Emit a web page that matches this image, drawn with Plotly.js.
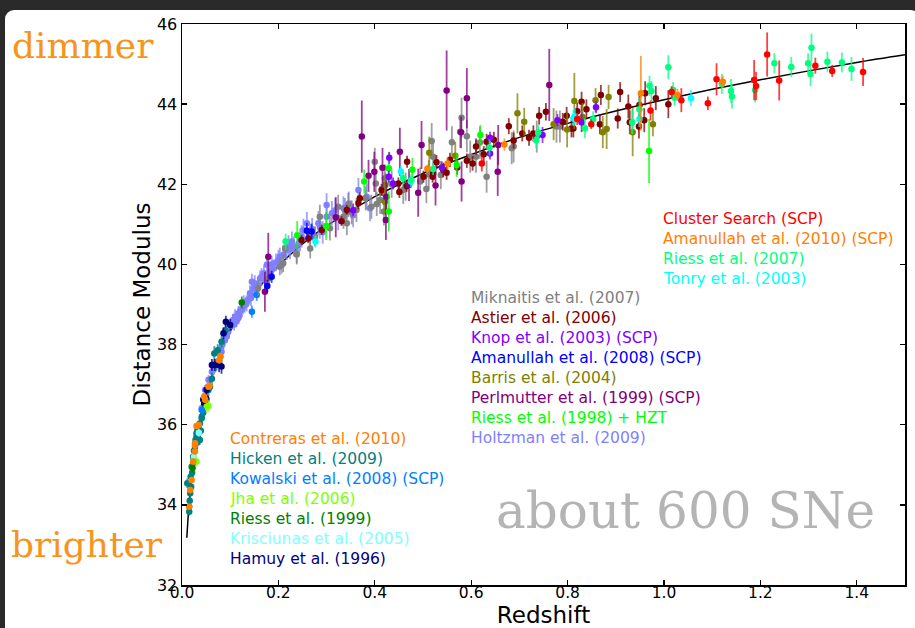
<!DOCTYPE html>
<html>
<head>
<meta charset="utf-8">
<script src="https://cdn.plot.ly/plotly-3.0.1.min.js"></script>
<style>
html,body{margin:0;padding:0;background:#2a2a2a;width:915px;height:628px;overflow:hidden;}
#card{position:absolute;left:5px;top:10px;width:915px;height:640px;background:#ffffff;border-radius:9px;}
#chart{position:absolute;left:0;top:0;width:915px;height:628px;}
</style>
</head>
<body>
<div id="card"></div>
<div id="chart"></div>
<script>
// ---- model curve ----
const zLine  = [0.01,0.015,0.02,0.03,0.04,0.05,0.07,0.10,0.13,0.16,0.20,0.25,0.30,0.40,0.50,0.60,0.70,0.80,0.90,1.00,1.10,1.20,1.30,1.40,1.50];
const muLine = [33.18,34.07,34.70,35.60,36.24,36.74,37.50,38.33,38.93,39.43,39.96,40.51,40.96,41.69,42.27,42.74,43.17,43.52,43.83,44.11,44.37,44.61,44.83,45.04,45.23];

// ---- data sets ----
const zHoltzman  = [0.041,0.048,0.055,0.062,0.065,0.068,0.082,0.082,0.089,0.093,0.096,0.103,0.106,0.110,0.113,0.117,0.117,0.121,0.124,0.127,0.130,0.134,0.137,0.141,0.145,0.148,0.151,0.155,0.162,0.165,0.170,0.176,0.183,0.189,0.195,0.200,0.207,0.210,0.217,0.221,0.228,0.232,0.238,0.245,0.248,0.252,0.259,0.266,0.283,0.286,0.300,0.300,0.311,0.324,0.335,0.338,0.355,0.366,0.383,0.390,0.108,0.119,0.128,0.143,0.158,0.172,0.186,0.203,0.224,0.242,0.270,0.292,0.318,0.346];
const muHoltzman = [36.41,36.87,37.12,37.32,37.37,37.53,37.82,37.95,38.11,38.20,38.32,38.53,38.61,38.70,38.58,38.66,38.78,38.85,38.88,38.94,38.98,39.03,39.12,39.28,39.57,39.40,39.53,39.36,39.65,39.69,39.78,39.99,39.85,39.90,40.05,40.11,39.99,40.24,40.36,40.48,40.57,40.45,40.28,40.61,40.70,40.86,41.03,40.73,41.03,40.94,41.19,41.48,41.28,41.15,41.40,41.36,41.23,41.86,41.69,41.40,38.50,38.72,39.05,39.16,39.48,39.62,40.00,40.20,40.38,40.52,40.88,40.80,41.35,41.52];
const erHoltzman = [0.12,0.12,0.12,0.12,0.15,0.12,0.15,0.12,0.15,0.15,0.15,0.15,0.15,0.18,0.15,0.15,0.18,0.15,0.18,0.18,0.18,0.2,0.18,0.2,0.2,0.2,0.2,0.2,0.2,0.22,0.2,0.22,0.22,0.22,0.22,0.25,0.22,0.25,0.25,0.25,0.25,0.25,0.25,0.28,0.28,0.28,0.28,0.28,0.3,0.3,0.3,0.3,0.3,0.3,0.3,0.3,0.3,0.3,0.32,0.32,0.15,0.15,0.18,0.2,0.2,0.2,0.22,0.22,0.25,0.25,0.28,0.28,0.3,0.3];

const zHicken  = [0.011,0.015,0.015,0.016,0.017,0.018,0.019,0.020,0.021,0.023,0.024,0.025,0.027,0.028,0.030,0.030,0.031,0.032,0.034,0.035,0.037,0.037,0.039,0.041,0.041,0.044,0.047,0.051,0.055,0.058,0.062,0.067,0.072,0.074,0.082,0.090];
const muHicken = [34.54,33.83,33.95,34.10,34.29,34.70,34.45,34.95,34.80,35.20,35.05,35.35,35.45,35.62,35.70,35.79,35.55,35.87,35.65,35.95,36.03,35.62,35.85,36.16,36.20,36.30,36.45,36.62,36.87,36.95,37.15,37.78,37.50,37.86,38.07,38.35];
const erHicken = [0.12,0.1,0.1,0.1,0.12,0.12,0.1,0.12,0.1,0.12,0.1,0.12,0.12,0.12,0.15,0.12,0.12,0.15,0.12,0.12,0.15,0.12,0.12,0.15,0.12,0.15,0.15,0.15,0.15,0.15,0.15,0.18,0.15,0.15,0.15,0.15];

const zHamuy  = [0.044,0.046,0.050,0.051,0.062,0.068,0.077,0.082,0.086,0.091,0.100];
const muHamuy = [36.63,36.53,36.66,36.87,37.49,37.49,37.49,37.45,38.28,38.57,38.49];
const erHamuy = [0.15,0.15,0.15,0.15,0.15,0.15,0.18,0.18,0.15,0.15,0.15];

const zKris  = [0.025,0.035];
const muKris = [35.20,35.80];
const erKris = [0.1,0.1];

const zRiess99  = [0.124,0.022];
const muRiess99 = [39.05,34.92];
const erRiess99 = [0.15,0.12];

const zJha  = [0.030,0.051,0.055];
const muJha = [35.08,36.45,36.47];
const erJha = [0.12,0.15,0.15];

const zKowalski  = [0.041,0.145,0.155];
const muKowalski = [36.37,38.82,39.24];
const erKowalski = [0.12,0.15,0.15];

const zContreras  = [0.015,0.017,0.020,0.023,0.027,0.027,0.027,0.030,0.035,0.046,0.048,0.055,0.057,0.077,0.080];
const muContreras = [33.95,34.37,34.62,35.08,35.33,35.49,35.54,35.97,35.99,36.70,36.62,36.95,36.97,37.61,37.70];
const erContreras = [0.08,0.08,0.08,0.08,0.08,0.08,0.08,0.08,0.08,0.08,0.08,0.08,0.08,0.08,0.08];

const zMiknaitis  = [0.158,0.179,0.181,0.203,0.210,0.214,0.238,0.266,0.276,0.286,0.307,0.324,0.335,0.342,0.345,0.352,0.362,0.381,0.393,0.400,0.402,0.404,0.411,0.418,0.419,0.421,0.435,0.459,0.464,0.494,0.507,0.512,0.518,0.521,0.537,0.560,0.577,0.580,0.591,0.598,0.610,0.618,0.632,0.684,0.688,0.736,0.777,0.784];
const muMiknaitis = [39.41,39.65,39.69,39.95,40.03,40.40,40.25,40.40,40.70,41.19,40.90,41.44,41.19,41.03,41.48,41.30,41.36,41.65,41.44,42.56,42.02,41.51,41.61,41.78,41.32,42.15,42.01,41.86,41.94,42.07,41.88,42.25,43.08,42.69,42.23,43.05,43.31,43.66,43.20,42.69,42.69,43.04,42.19,42.90,42.94,43.19,43.44,43.44];
const erMiknaitis = [0.2,0.2,0.2,0.22,0.22,0.25,0.25,0.25,0.25,0.3,0.3,0.3,0.3,0.3,0.3,0.3,0.3,0.3,0.3,0.35,0.3,0.3,0.35,0.3,0.35,0.35,0.35,0.35,0.35,0.35,0.35,0.35,0.45,0.4,0.35,0.4,0.4,0.5,0.4,0.4,0.4,0.4,0.4,0.4,0.4,0.4,0.4,0.4];

const zAstier  = [0.248,0.262,0.290,0.331,0.342,0.366,0.369,0.414,0.449,0.451,0.466,0.467,0.501,0.520,0.521,0.528,0.542,0.549,0.556,0.571,0.591,0.603,0.610,0.626,0.632,0.647,0.678,0.688,0.706,0.720,0.729,0.741,0.755,0.790,0.798,0.808,0.812,0.820,0.829,0.839,0.867,0.869,0.904,0.909,0.926,0.929,0.948,0.949,0.959,0.961,0.983,1.009];
const muAstier = [40.61,40.65,40.86,41.08,41.36,41.53,41.65,41.86,42.02,41.81,41.96,42.56,42.19,42.19,42.27,42.55,42.36,42.29,42.61,42.42,42.59,42.52,42.94,42.75,43.06,43.11,43.45,43.09,43.27,43.16,43.27,43.71,43.81,43.56,43.71,43.39,43.39,43.82,44.06,43.87,43.50,44.23,43.64,44.30,43.94,43.55,43.44,43.98,43.60,44.27,44.15,44.00];
const erAstier = [0.12,0.12,0.12,0.12,0.12,0.15,0.15,0.15,0.15,0.15,0.15,0.15,0.15,0.15,0.15,0.18,0.18,0.18,0.18,0.18,0.18,0.18,0.2,0.2,0.2,0.2,0.2,0.2,0.2,0.2,0.2,0.22,0.22,0.22,0.22,0.22,0.22,0.22,0.25,0.25,0.25,0.25,0.25,0.25,0.3,0.3,0.3,0.3,0.3,0.3,0.3,0.35];

const zBarris  = [0.421,0.422,0.513,0.567,0.696,0.710,0.771,0.799,0.814,0.831,0.858,0.873,0.881,0.885,0.935,0.977];
const muBarris = [41.57,41.98,42.79,42.71,43.77,43.56,43.50,43.37,44.08,43.68,44.10,43.30,43.38,44.18,43.30,43.50];
const erBarris = [0.3,0.3,0.4,0.35,0.5,0.35,0.4,0.45,0.7,0.35,0.3,0.4,0.5,0.3,0.6,0.3];

const zPerlmutter  = [0.172,0.179,0.319,0.373,0.387,0.399,0.416,0.423,0.424,0.452,0.471,0.490,0.497,0.526,0.549,0.579,0.580,0.591,0.655,0.656,0.762];
const muPerlmutter = [39.32,40.19,41.18,43.19,42.21,42.31,42.41,41.11,41.69,42.81,41.98,41.79,42.98,41.97,44.34,43.30,42.07,44.15,42.31,42.98,44.48];
const erPerlmutter = [0.5,0.6,0.5,0.9,0.4,0.5,0.5,0.5,0.4,0.6,0.4,0.6,0.6,0.5,1.0,0.4,0.5,0.75,0.6,0.5,0.9];

const zRiess98  = [0.239,0.299,0.378,0.429,0.429,0.478,0.570,0.619,0.969];
const muRiess98 = [40.73,40.96,42.07,42.40,41.32,42.36,42.48,43.23,42.83];
const erRiess98 = [0.35,0.35,0.3,0.4,0.5,0.3,0.3,0.25,0.8];

const zKnop  = [0.355,0.429,0.430,0.438,0.539,0.639,0.639,0.748,0.779,0.829,0.859];
const muKnop = [41.35,42.19,42.66,42.02,42.42,43.16,42.77,43.23,43.60,43.55,43.92];
const erKnop = [0.15,0.15,0.15,0.15,0.15,0.15,0.15,0.2,0.15,0.25,0.15];

const zAmanullah08  = [0.177,0.186,0.259,0.269];
const muAmanullah08 = [39.46,39.69,40.84,40.82];
const erAmanullah08 = [0.15,0.15,0.2,0.2];

const zTonry  = [0.277,0.454,0.475,0.812,0.815,0.949,1.056];
const muTonry = [40.57,42.32,42.07,43.65,43.69,43.63,44.15];
const erTonry = [0.15,0.15,0.15,0.2,0.2,0.2,0.2];

const zRiess07  = [0.215,0.459,0.476,0.521,0.638,0.735,0.739,0.836,0.853,0.934,0.949,0.970,0.974,1.009,1.019,1.022,1.120,1.139,1.141,1.189,1.229,1.264,1.299,1.304,1.306,1.339,1.369,1.389];
const muRiess07 = [40.57,42.15,42.11,42.38,42.92,43.10,43.29,43.40,43.62,43.55,43.87,44.46,44.33,44.92,44.35,44.16,44.50,44.33,44.19,44.35,45.02,44.93,45.02,44.75,45.41,45.06,45.04,44.88];
const erRiess07 = [0.2,0.15,0.15,0.15,0.2,0.2,0.2,0.25,0.2,0.3,0.3,0.25,0.25,0.3,0.2,0.2,0.25,0.3,0.3,0.3,0.25,0.25,0.25,0.3,0.35,0.25,0.25,0.3];

const zAmanullah10  = [0.509,0.551,0.669,0.952,1.028,1.122];
const muAmanullah10 = [42.39,42.52,42.99,44.27,44.23,44.56];
const erAmanullah10 = [0.1,0.15,0.15,0.93,0.15,0.15];

const zCluster  = [0.622,0.820,0.849,0.972,1.016,1.036,1.091,1.109,1.187,1.191,1.214,1.239,1.314,1.349,1.413];
const muCluster = [42.52,43.63,43.50,43.84,44.30,44.10,44.02,44.62,44.60,44.45,45.24,44.59,44.96,44.83,44.80];
const erCluster = [0.2,0.15,0.12,0.25,0.15,0.3,0.17,0.4,0.5,0.35,0.55,0.5,0.2,0.15,0.35];

// ---- legend texts ----
const labelsLeft  = ["Contreras et al. (2010)","Hicken et al. (2009)","Kowalski et al. (2008) (SCP)","Jha et al. (2006)","Riess et al. (1999)","Krisciunas et al. (2005)","Hamuy et al. (1996)"];
const colorsLeft  = ["#ff8000","#008080","#0080ff","#80ff00","#008000","#80ffff","#000080"];
const labelsMid   = ["Miknaitis et al. (2007)","Astier et al. (2006)","Knop et al. (2003) (SCP)","Amanullah et al. (2008) (SCP)","Barris et al. (2004)","Perlmutter et al. (1999) (SCP)","Riess et al. (1998) + HZT","Holtzman et al. (2009)"];
const colorsMid   = ["#808080","#800000","#8000ff","#0000ff","#808000","#800080","#00ff00","#8080ff"];
const labelsRight = ["Cluster Search (SCP)","Amanullah et al. (2010) (SCP)","Riess et al. (2007)","Tonry et al. (2003)"];
const colorsRight = ["#ff0000","#ff8000","#00ff80","#00ffff"];

function hexA(hex, a){
  const r=parseInt(hex.slice(1,3),16), g=parseInt(hex.slice(3,5),16), b=parseInt(hex.slice(5,7),16);
  return `rgba(${r},${g},${b},${a})`;
}
function series(x, y, e, color){
  return {type:'scatter', mode:'markers', x:x, y:y, showlegend:false, hoverinfo:'skip',
    marker:{size:6.5, color:color, line:{width:0}},
    error_y:{type:'data', array:e, visible:true, color:hexA(color,0.75), thickness:1.8, width:0}};
}

const traces = [
  {type:'scatter', mode:'lines', x:zLine, y:muLine, line:{color:'#000000', width:1.5, shape:'spline'}, showlegend:false, hoverinfo:'skip'},
  series(zHoltzman, muHoltzman, erHoltzman, '#8080ff'),
  series(zHicken, muHicken, erHicken, '#008080'),
  series(zHamuy, muHamuy, erHamuy, '#000080'),
  series(zKris, muKris, erKris, '#80ffff'),
  series(zRiess99, muRiess99, erRiess99, '#008000'),
  series(zJha, muJha, erJha, '#80ff00'),
  series(zKowalski, muKowalski, erKowalski, '#0080ff'),
  series(zContreras, muContreras, erContreras, '#ff8000'),
  series(zMiknaitis, muMiknaitis, erMiknaitis, '#808080'),
  series(zAstier, muAstier, erAstier, '#800000'),
  series(zBarris, muBarris, erBarris, '#808000'),
  series(zPerlmutter, muPerlmutter, erPerlmutter, '#800080'),
  series(zRiess98, muRiess98, erRiess98, '#00ff00'),
  series(zKnop, muKnop, erKnop, '#8000ff'),
  series(zAmanullah08, muAmanullah08, erAmanullah08, '#0000ff'),
  series(zTonry, muTonry, erTonry, '#00ffff'),
  series(zRiess07, muRiess07, erRiess07, '#00ff80'),
  series(zAmanullah10, muAmanullah10, erAmanullah10, '#ff8000'),
  series(zCluster, muCluster, erCluster, '#ff0000')
];

const L = 182, R = 905, T = 24, B = 585;
const px = v => (v - L) / (R - L);
const py = v => (B - v) / (B - T);

const ann = [];
function group(labels, colors, x0, y0){
  labels.forEach((t,i)=>{
    ann.push({xref:'paper', yref:'paper', x:px(x0), y:py(y0 + 20*i), xanchor:'left', yanchor:'middle',
      text:t, showarrow:false, font:{family:'DejaVu Sans', size:15.5, color:colors[i]}});
  });
}
group(labelsLeft, colorsLeft, 228, 439);
group(labelsMid, colorsMid, 469, 298);
group(labelsRight, colorsRight, 661, 219);
ann.push({xref:'paper', yref:'paper', x:px(83), y:py(46), xanchor:'center', yanchor:'middle', text:'dimmer', showarrow:false, font:{family:'DejaVu Serif', size:36, color:'#f7941d'}});
ann.push({xref:'paper', yref:'paper', x:px(87), y:py(544), xanchor:'center', yanchor:'middle', text:'brighter', showarrow:false, font:{family:'DejaVu Serif', size:36, color:'#f7941d'}});
ann.push({xref:'paper', yref:'paper', x:px(685), y:py(511), xanchor:'center', yanchor:'middle', text:'about 600 SNe', showarrow:false, font:{family:'DejaVu Serif', size:50, color:'#b4b4b4'}});

const layout = {
  width:915, height:628,
  margin:{l:L, r:915-R, t:T, b:628-B},
  paper_bgcolor:'rgba(0,0,0,0)', plot_bgcolor:'#ffffff',
  font:{family:'DejaVu Sans', color:'#000000'},
  xaxis:{range:[0,1.5], tickvals:[0,0.2,0.4,0.6,0.8,1.0,1.2,1.4], tickformat:'.1f', ticks:'inside', ticklen:5, tickwidth:1.3, tickcolor:'#000',
    showline:true, linecolor:'#000', linewidth:1.5, mirror:'ticks', showgrid:false, zeroline:false, ticklabelstandoff:-7,
    tickfont:{size:15.5}, title:{text:'Redshift', font:{size:23}, standoff:9}},
  yaxis:{range:[32,46], tickvals:[32,34,36,38,40,42,44,46], ticks:'inside', ticklen:5, tickwidth:1.3, tickcolor:'#000',
    showline:true, linecolor:'#000', linewidth:1.5, mirror:'ticks', showgrid:false, zeroline:false,
    tickfont:{size:16}, title:{text:'Distance Modulus', font:{size:23}, standoff:0}},
  annotations: ann
};
Plotly.newPlot('chart', traces, layout, {displayModeBar:false, staticPlot:true});
</script>
</body>
</html>
